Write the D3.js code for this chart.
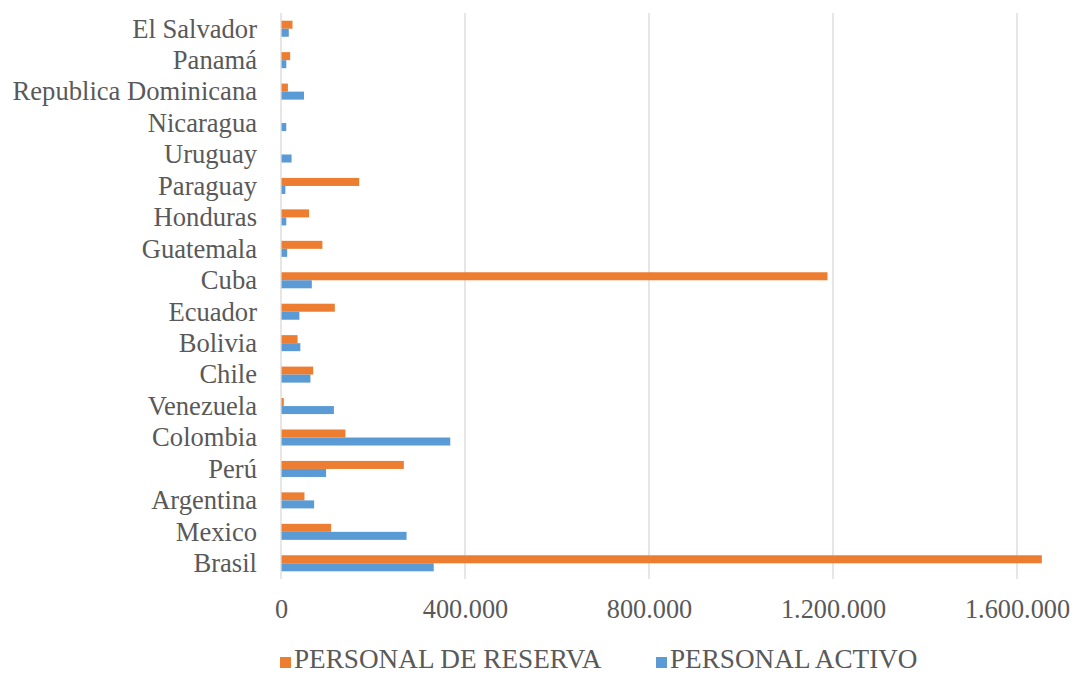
<!DOCTYPE html>
<html>
<head>
<meta charset="utf-8">
<script src="https://cdn.jsdelivr.net/npm/d3@7"></script>
<style>
  html, body { margin: 0; padding: 0; background: #ffffff; }
  svg { display: block; }
  text { font-family: "Liberation Serif", "Times New Roman", serif; fill: #595959; }
</style>
</head>
<body>
<svg id="chart" width="1074" height="675"></svg>
<script>
// Countries listed top to bottom
const countries = [
  "El Salvador", "Panamá", "Republica Dominicana", "Nicaragua", "Uruguay",
  "Paraguay", "Honduras", "Guatemala", "Cuba", "Ecuador", "Bolivia", "Chile",
  "Venezuela", "Colombia", "Perú", "Argentina", "Mexico", "Brasil"
];

// Reserve personnel per country
const reserva = [
  25000, 20000, 15000, 0, 0,
  170000, 61000, 90000, 1188000, 117000, 36000, 70000,
  6000, 140000, 267000, 51000, 109000, 1654000
];

// Active personnel per country
const activo = [
  17000, 11500, 50000, 11500, 23000,
  9500, 11500, 13500, 67000, 40000, 42000, 64000,
  115000, 368000, 98000, 72000, 273000, 332000
];

const xTicks = [0, 400000, 800000, 1200000, 1600000];
const seriesNames = ["PERSONAL DE RESERVA", "PERSONAL ACTIVO"];
const seriesColors = ["#ED7D31", "#5B9BD5"];

const svg = d3.select("#chart");
const plot = { left: 281, right: 1017, top: 13, bottom: 579 };

const x = d3.scaleLinear().domain([0, 1600000]).range([plot.left, plot.right]);
const y = d3.scaleBand().domain(countries).range([plot.top, plot.bottom])
  .paddingInner(0.49).paddingOuter(0.245);
const sub = d3.scaleBand().domain([0, 1]).range([0, y.bandwidth()]);

// Vertical gridlines
svg.append("g")
  .selectAll("line")
  .data(xTicks.filter(d => d > 0))
  .join("line")
  .attr("x1", d => x(d)).attr("x2", d => x(d))
  .attr("y1", plot.top).attr("y2", plot.bottom)
  .attr("stroke", "#d9d9d9").attr("stroke-width", 1.3);

// Bars
const rows = countries.map((c, i) => ({ c, vals: [reserva[i], activo[i]] }));
const groups = svg.append("g").selectAll("g")
  .data(rows).join("g")
  .attr("transform", d => `translate(0,${y(d.c)})`);

groups.selectAll("rect")
  .data(d => d.vals.map((v, k) => ({ v, k })))
  .join("rect")
  .attr("x", x(0))
  .attr("y", d => sub(d.k))
  .attr("width", d => Math.max(0, x(d.v) - x(0)))
  .attr("height", sub.bandwidth())
  .attr("fill", d => seriesColors[d.k]);

// Category axis line
svg.append("line")
  .attr("x1", x(0)).attr("x2", x(0))
  .attr("y1", plot.top).attr("y2", plot.bottom)
  .attr("stroke", "#d9d9d9").attr("stroke-width", 1.3);

// Value axis tick labels
const fmt = d => d3.format(",")(d).replace(/,/g, ".");
const xAxis = d3.axisBottom(x).tickValues(xTicks).tickFormat(fmt).tickSize(0).tickPadding(0);
const gx = svg.append("g").attr("transform", `translate(0,${plot.bottom})`).call(xAxis);
gx.select(".domain").remove();
gx.selectAll("text")
  .attr("y", 39).attr("dy", null)
  .attr("font-size", "26.3px")
  .style("font-family", "'Liberation Serif', serif")
  .attr("fill", "#595959");

// Category labels
const yAxis = d3.axisLeft(y).tickSize(0).tickPadding(0);
const gy = svg.append("g").attr("transform", `translate(257,0)`).call(yAxis);
gy.select(".domain").remove();
gy.selectAll("text")
  .attr("x", 0).attr("dy", "0.33em")
  .attr("font-size", "26.6px")
  .style("font-family", "'Liberation Serif', serif")
  .attr("fill", "#595959");

// Legend
const legendItems = [
  { name: seriesNames[0], color: seriesColors[0], x: 280 },
  { name: seriesNames[1], color: seriesColors[1], x: 656 }
];
const lg = svg.append("g").selectAll("g").data(legendItems).join("g")
  .attr("transform", d => `translate(${d.x},657)`);
lg.append("rect").attr("width", 11).attr("height", 11).attr("fill", d => d.color);
lg.append("text").attr("x", 14).attr("y", 11)
  .attr("font-size", "27.2px").text(d => d.name);
</script>
</body>
</html>
